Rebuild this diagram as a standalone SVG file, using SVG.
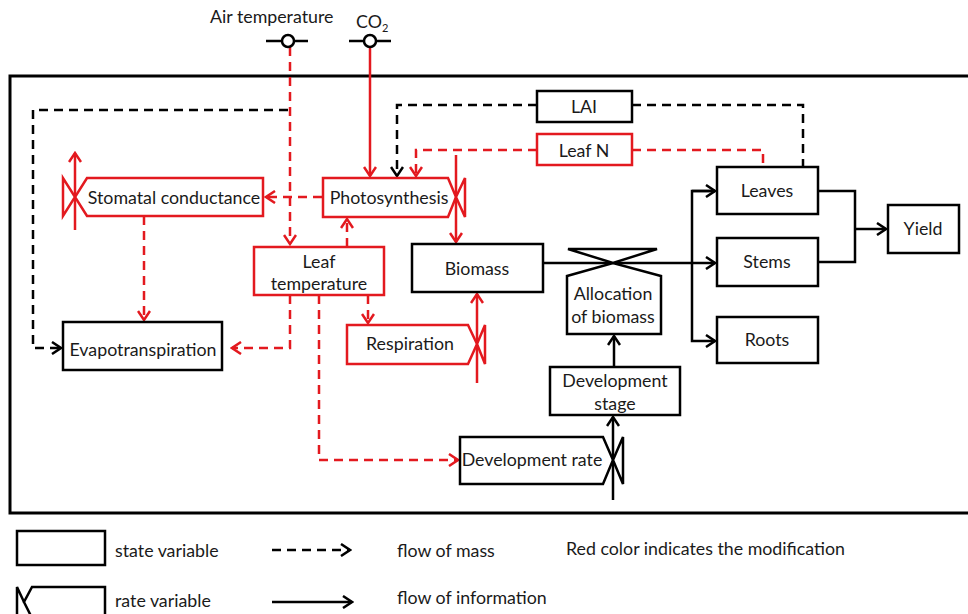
<svg xmlns="http://www.w3.org/2000/svg" width="968" height="614" viewBox="0 0 968 614">
<style>
text{font-family:Lato,"Liberation Sans",sans-serif;font-size:17.8px;fill:#1a1a1a}
.c{text-anchor:middle}
.bk{fill:#fff;stroke:#000;stroke-width:2.5}
.rd{fill:#fff;stroke:#e3191f;stroke-width:2.5}
.lk{fill:none;stroke:#000;stroke-width:2.5}
.lr{fill:none;stroke:#e3191f;stroke-width:2.5}
.d{stroke-dasharray:9,6}
</style>
<defs>
<marker id="ak" viewBox="0 0 12 14" refX="10" refY="7" markerWidth="12" markerHeight="14" markerUnits="userSpaceOnUse" orient="auto"><path d="M1,1 L10,7 L1,13" fill="none" stroke="#000" stroke-width="2.5"/></marker>
<marker id="ar" viewBox="0 0 12 14" refX="10" refY="7" markerWidth="12" markerHeight="14" markerUnits="userSpaceOnUse" orient="auto"><path d="M1,1 L10,7 L1,13" fill="none" stroke="#e3191f" stroke-width="2.5"/></marker>
</defs>
<rect x="10" y="76" width="975" height="437" fill="none" stroke="#000" stroke-width="3"/>

<g id="connectors">
<path class="lr d" d="M290,47 V244" marker-end="url(#ar)"/>
<path class="lr d" d="M322,197 H266" marker-end="url(#ar)"/>
<path class="lr" d="M75,230 V153" marker-end="url(#ar)"/>
<path class="lk d" d="M288,110 H33 V348 H61" marker-end="url(#ak)"/>
<path class="lr d" d="M144,216 V320" marker-end="url(#ar)"/>
<path class="lr" d="M370,47 V176" marker-end="url(#ar)"/>
<path class="lr" d="M456,155 V242" marker-end="url(#ar)"/>
<path class="lk d" d="M537,105 H397 V176" marker-end="url(#ak)"/>
<path class="lr d" d="M537,150 H416 V176" marker-end="url(#ar)"/>
<path class="lk d" d="M632,105 H803 V167"/>
<path class="lr d" d="M632,150 H763 V167"/>
<path class="lr d" d="M347,247 V219" marker-end="url(#ar)"/>
<path class="lr d" d="M290,295 V348 H232" marker-end="url(#ar)"/>
<path class="lr d" d="M319,295 V460 H458" marker-end="url(#ar)"/>
<path class="lr d" d="M368,295 V323" marker-end="url(#ar)"/>
<path class="lr" d="M477,383 V294" marker-end="url(#ar)"/>
<path class="lk" d="M543,263 H715" marker-end="url(#ak)"/>
<path class="lk" d="M614,367 V336" marker-end="url(#ak)"/>
<path class="lk" d="M613,500 V417" marker-end="url(#ak)"/>
<path class="lk" d="M715,191 H692 V341 H715" marker-end="url(#ak)"/>
<path class="lk" d="M692,191 H715" marker-end="url(#ak)"/>
<path class="lk" d="M818,191 H855 V262 H818"/>
<path class="lk" d="M855,229 H886" marker-end="url(#ak)"/>
</g>

<g id="air-temperature">
<text x="210" y="23">Air temperature</text>
<line x1="266" y1="41" x2="308" y2="41" stroke="#000" stroke-width="2.5"/>
<circle cx="288" cy="41" r="6" class="bk"/>
</g>
<g id="co2">
<text x="356" y="28">CO<tspan font-size="11" dy="4">2</tspan></text>
<line x1="349" y1="41" x2="391" y2="41" stroke="#000" stroke-width="2.5"/>
<circle cx="370" cy="41" r="6" class="bk"/>
</g>

<g id="stomatal-conductance">
<path class="rd" d="M87,178 H263 V216 H87 L75,197 Z"/>
<path class="rd" d="M75,197 L63,178 V216 Z"/>
<text class="c" x="174" y="204">Stomatal conductance</text>
</g>
<g id="evapotranspiration">
<rect class="bk" x="63" y="322" width="159" height="48"/>
<text class="c" x="143" y="356">Evapotranspiration</text>
</g>
<g id="photosynthesis">
<path class="rd" d="M323,178 H448 L456,197 L448,217 H323 Z"/>
<path class="rd" d="M456,197 L465,178 V217 Z"/>
<text class="c" x="389" y="204">Photosynthesis</text>
</g>
<g id="lai">
<rect class="bk" x="537" y="91" width="95" height="31"/>
<text class="c" x="584" y="113">LAI</text>
</g>
<g id="leaf-n">
<rect class="rd" x="537" y="134" width="95" height="31"/>
<text class="c" x="584" y="157">Leaf N</text>
</g>
<g id="leaf-temperature">
<rect class="rd" x="254" y="247" width="130" height="48"/>
<text class="c" x="319" y="268">Leaf</text>
<text class="c" x="319" y="290">temperature</text>
</g>
<g id="respiration">
<path class="rd" d="M347,325 H468 L477,344 L468,364 H347 Z"/>
<path class="rd" d="M477,344 L485,325 V364 Z"/>
<text class="c" x="410" y="350">Respiration</text>
</g>
<g id="biomass">
<rect class="bk" x="412" y="244" width="131" height="48"/>
<text class="c" x="477" y="275">Biomass</text>
</g>
<g id="allocation">
<path class="bk" d="M567,334 V276 L613,263 L661,276 V334 Z"/>
<path class="bk" d="M568,249 H657 L613,263 Z"/>
<text class="c" x="613" y="300">Allocation</text>
<text class="c" x="613" y="323">of biomass</text>
</g>
<g id="development-stage">
<rect class="bk" x="550" y="367" width="130" height="48"/>
<text class="c" x="615" y="387">Development</text>
<text class="c" x="615" y="410">stage</text>
</g>
<g id="development-rate">
<path class="bk" d="M460,437 H603 L613,460 L603,484 H460 Z"/>
<path class="bk" d="M613,460 L623,437 V484 Z"/>
<text class="c" x="532" y="466">Development rate</text>
</g>
<g id="leaves">
<rect class="bk" x="717" y="167" width="101" height="47"/>
<text class="c" x="767" y="197">Leaves</text>
</g>
<g id="stems">
<rect class="bk" x="717" y="238" width="101" height="48"/>
<text class="c" x="767" y="268">Stems</text>
</g>
<g id="roots">
<rect class="bk" x="717" y="317" width="101" height="46"/>
<text class="c" x="767" y="346">Roots</text>
</g>
<g id="yield">
<rect class="bk" x="888" y="205" width="71" height="48"/>
<text class="c" x="923" y="235">Yield</text>
</g>

<g id="legend">
<rect class="bk" x="17" y="531" width="88" height="34"/>
<text x="115" y="557">state variable</text>
<path class="lk" d="M105,618 V587 H32 L24,602 L32,618"/>
<path class="lk" d="M24,602 L17,587 V618"/>
<text x="115" y="607">rate variable</text>
<path class="lk d" d="M272,550 H350" marker-end="url(#ak)"/>
<path class="lk" d="M272,602 H352" marker-end="url(#ak)"/>
<text x="397" y="557">flow of mass</text>
<text x="397" y="604">flow of information</text>
<text x="566" y="555">Red color indicates the modification</text>
</g>
</svg>
